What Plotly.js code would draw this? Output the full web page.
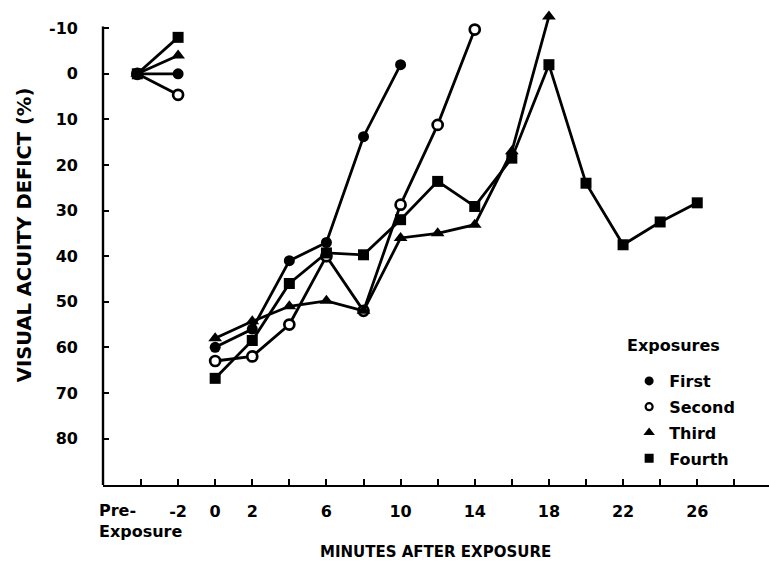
<!DOCTYPE html>
<html>
<head>
<meta charset="utf-8">
<script src="https://cdn.plot.ly/plotly-3.0.1.min.js"></script>
<style>
  html, body { margin: 0; padding: 0; background: #fff; }
  #chart { width: 769px; height: 569px; }
</style>
</head>
<body>
<div id="chart"></div>
<script>
// Visual acuity deficit (%) over minutes after exposure, four exposures.

// Pre-exposure baseline sits left of the -2 min reading on the time axis.
const preExposureX = -4.2;
const preExposureDeficit = 0;
const baselineMinute = -2;

// Readings two minutes before exposure
const firstBaseline = 0;
const secondBaseline = 4.6;
const thirdBaseline = -4;
const fourthBaseline = -8;

// Readings after exposure
const firstMinutes = [0, 2, 4, 6, 8, 10];
const firstDeficit = [60, 56, 41, 37, 13.8, -2];

const secondMinutes = [0, 2, 4, 6, 8, 10, 12, 14];
const secondDeficit = [63, 62, 55, 40, 52, 28.7, 11.2, -9.7];

const thirdMinutes = [0, 2, 4, 6, 8, 10, 12, 14, 16, 18];
const thirdDeficit = [58, 54.3, 51, 49.8, 52, 36, 35, 33.1, 17, -12.6];

const fourthMinutes = [0, 2, 4, 6, 8, 10, 12, 14, 16, 18, 20, 22, 24, 26];
const fourthDeficit = [66.8, 58.5, 46, 39.3, 39.7, 32, 23.6, 29.1, 18.5, -2, 24, 37.5, 32.5, 28.3];

// Axis ticks
const xTickVals = [-4, -2, 0, 2, 4, 6, 8, 10, 12, 14, 16, 18, 20, 22, 24, 26, 28];
const xTickText = ['', '-2', '0', '2', '', '6', '', '10', '', '14', '', '18', '', '22', '', '26', ''];
const yTickVals = [-10, 0, 10, 20, 30, 40, 50, 60, 70, 80];
const yTickText = ['-10', '0', '10', '20', '30', '40', '50', '60', '70', '80'];

const seriesNames = ['First', 'Second', 'Third', 'Fourth'];

// Visible extent of the deficit axis; the plot area runs a little higher
// so the peak reading above -10 is not cut off.
const yAxisTop = -10.4;
const yAxisBottom = 90.2;

const FONT = 'DejaVu Sans, Liberation Sans, Arial, sans-serif';
const INK = '#000';

function seriesTrace(baseline, minutes, deficit, marker) {
  return {
    type: 'scatter',
    mode: 'lines+markers',
    x: [preExposureX, baselineMinute, null].concat(minutes),
    y: [preExposureDeficit, baseline, null].concat(deficit),
    connectgaps: false,
    line: { color: INK, width: 2.8 },
    marker: marker,
    cliponaxis: false,
    showlegend: false,
    hoverinfo: 'skip'
  };
}

const openCircle = { symbol: 'circle', size: 10, color: '#fff', line: { color: INK, width: 2.7 } };
const filledCircle = { symbol: 'circle', size: 11, color: INK, line: { color: INK, width: 0 } };
const triangle = { symbol: 'triangle-up', size: 12, color: INK, line: { color: INK, width: 0 } };
const square = { symbol: 'square', size: 11, color: INK, line: { color: INK, width: 0 } };

const dataTraces = [
  seriesTrace(secondBaseline, secondMinutes, secondDeficit, openCircle),
  seriesTrace(thirdBaseline, thirdMinutes, thirdDeficit, triangle),
  seriesTrace(fourthBaseline, fourthMinutes, fourthDeficit, square),
  seriesTrace(firstBaseline, firstMinutes, firstDeficit, filledCircle)
];

// Legend keys show the marker only
const legendMarkers = [
  { symbol: 'circle', size: 9, color: INK, line: { color: INK, width: 0 } },
  { symbol: 'circle', size: 7, color: '#fff', line: { color: INK, width: 2.2 } },
  { symbol: 'triangle-up', size: 10, color: INK, line: { color: INK, width: 0 } },
  { symbol: 'square', size: 9, color: INK, line: { color: INK, width: 0 } }
];
const legendTraces = seriesNames.map((name, i) => ({
  type: 'scatter',
  mode: 'markers',
  x: [null],
  y: [null],
  name: name,
  legendgroup: name,
  marker: legendMarkers[i],
  showlegend: true,
  hoverinfo: 'skip'
}));

const tickFont = { family: FONT, size: 16, color: INK, weight: 'bold' };

const layout = {
  width: 769,
  height: 569,
  margin: { l: 103, r: 0, t: 10, b: 84 },
  paper_bgcolor: '#fff',
  plot_bgcolor: '#fff',
  showlegend: true,
  xaxis: {
    range: [-6.05, 29.87],
    showline: true, linecolor: INK, linewidth: 2.4,
    ticks: 'inside', ticklen: 6, tickwidth: 2, tickcolor: INK,
    tickmode: 'array', tickvals: xTickVals, ticktext: xTickText,
    tickfont: tickFont,
    ticklabelstandoff: 10,
    showgrid: false, zeroline: false
  },
  yaxis: {
    range: [yAxisBottom, -14],
    showline: false,
    ticks: 'inside', ticklen: 6, tickwidth: 2, tickcolor: INK,
    tickmode: 'array', tickvals: yTickVals, ticktext: yTickText,
    tickfont: tickFont,
    ticklabelstandoff: 24,
    showgrid: false, zeroline: false
  },
  shapes: [
    {
      type: 'line', xref: 'paper', yref: 'y',
      x0: 0, x1: 0, y0: yAxisTop, y1: yAxisBottom,
      line: { color: INK, width: 2.4 }
    }
  ],
  legend: {
    x: 0.79, xanchor: 'left',
    y: 0.2547, yanchor: 'top',
    bgcolor: 'rgba(0,0,0,0)',
    borderwidth: 0,
    traceorder: 'grouped',
    tracegroupgap: 2,
    font: { family: FONT, size: 16, color: INK, weight: 'bold' }
  },
  annotations: [
    {
      xref: 'paper', yref: 'paper', x: 0.7845, y: 0.2947,
      xanchor: 'left', yanchor: 'middle',
      text: 'Exposures', showarrow: false,
      font: { family: FONT, size: 16, color: INK, weight: 'bold' }
    },
    {
      xref: 'paper', yref: 'paper', x: -0.009, y: -0.03,
      xanchor: 'left', yanchor: 'top', align: 'left',
      text: 'Pre-<br>Exposure', showarrow: false,
      font: { family: FONT, size: 16, color: INK, weight: 'bold' }
    },
    {
      xref: 'paper', yref: 'paper', x: 0.499, y: -0.14,
      xanchor: 'center', yanchor: 'middle',
      text: 'MINUTES AFTER EXPOSURE', showarrow: false,
      font: { family: FONT, size: 15, color: INK, weight: 'bold' }
    },
    {
      xref: 'paper', yref: 'paper', x: -0.1186, y: 0.526,
      xanchor: 'center', yanchor: 'middle', textangle: -90,
      text: 'VISUAL ACUITY DEFICT (%)', showarrow: false,
      font: { family: FONT, size: 19.5, color: INK, weight: 'bold' }
    }
  ]
};

Plotly.newPlot('chart', dataTraces.concat(legendTraces), layout, { displayModeBar: false, staticPlot: true });
</script>
</body>
</html>
